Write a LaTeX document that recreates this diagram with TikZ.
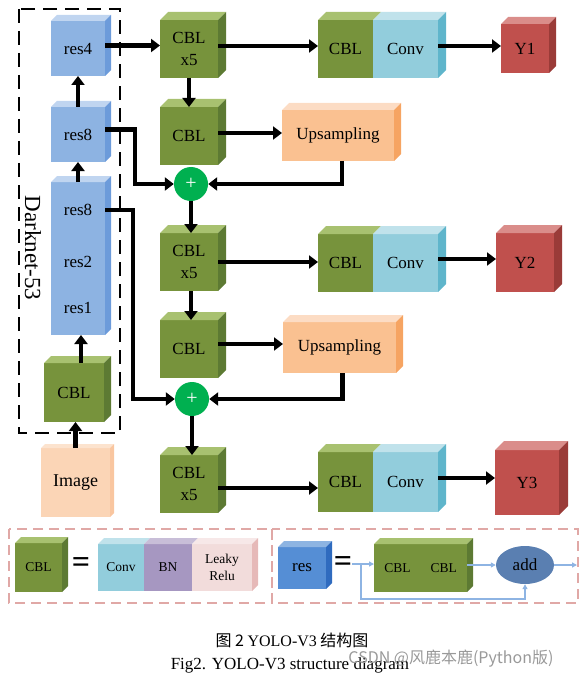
\documentclass[tikz,border=0pt]{standalone}
\usepackage{fontspec}
\setmainfont{Liberation Serif}
\newfontfamily\cjk{Noto Sans CJK SC}
\usetikzlibrary{calc,arrows.meta,shapes.geometric}
\definecolor{cblF}{HTML}{77933C}\definecolor{cblT}{HTML}{A8C170}\definecolor{cblS}{HTML}{5D7A33}
\definecolor{resF}{HTML}{8DB3E2}\definecolor{resT}{HTML}{C0D5F0}\definecolor{resS}{HTML}{6C9BDA}
\definecolor{upF}{HTML}{FAC191}\definecolor{upT}{HTML}{FCDCC4}\definecolor{upS}{HTML}{F6A462}
\definecolor{imgF}{HTML}{FBD5B6}\definecolor{imgT}{HTML}{FCE3CE}\definecolor{imgS}{HTML}{F9C6A0}
\definecolor{convF}{HTML}{92CDDC}\definecolor{convT}{HTML}{C0E2EB}\definecolor{convS}{HTML}{5FB5CB}
\definecolor{yF}{HTML}{C0504D}\definecolor{yT}{HTML}{DA8D8A}\definecolor{yS}{HTML}{9A3B38}
\definecolor{bnF}{HTML}{A697C1}\definecolor{bnT}{HTML}{C8BED8}
\definecolor{reluF}{HTML}{F2DCDB}\definecolor{reluT}{HTML}{F7E8E8}\definecolor{reluS}{HTML}{E6B9B8}
\definecolor{lresF}{HTML}{558ED5}\definecolor{lresT}{HTML}{8DB4E2}\definecolor{lresS}{HTML}{2F6BBF}
\definecolor{addF}{HTML}{5A7FB1}\definecolor{plusG}{HTML}{00B050}
\definecolor{thinB}{HTML}{8EB4E3}\definecolor{legBorder}{HTML}{E0A8A6}
\newcommand\faces[4]{%
  \fill[#3] (#1.north west) -- ++(#2,-#2) -- ($(#1.north east)+(#2,-#2)$) -- (#1.north east) -- cycle;
  \fill[#4] (#1.north east) -- ++(#2,-#2) -- ($(#1.south east)+(#2,-#2)$) -- (#1.south east) -- cycle;}
\newcommand\topface[3]{%
  \fill[#3] (#1.north west) -- ++(#2,-#2) -- ($(#1.north east)+(#2,-#2)$) -- (#1.north east) -- cycle;}
\tikzset{
  box/.style={inner sep=0pt, outer sep=0pt, fill=#1, font=\fontsize{17}{22}\selectfont, align=center},
  lbl/.style={inner sep=0pt, font=\fontsize{17}{22}\selectfont},
  sbox/.style={inner sep=0pt, outer sep=0pt, fill=#1, font=\fontsize{13.5}{17}\selectfont, align=center},
  arr/.style={line width=4.6pt, line join=miter, -{Triangle[length=9pt,width=13pt]}},
  thin/.style={line width=1.6pt, thinB, -{Triangle[length=5pt,width=5pt]}},
  plus/.style={circle, fill=plusG, minimum size=34pt, inner sep=0pt, text=white, font=\fontsize{20}{20}\selectfont},
}
\begin{document}
\begin{tikzpicture}[x=1pt,y=-1pt]
\useasboundingbox (0,0) rectangle (585,679);
% Darknet frame
\draw[line width=1.3pt, dash pattern=on 14pt off 8pt] (19,9) rectangle (120,433);
\node[lbl, rotate=-90, font=\fontsize{23}{23}\selectfont] (dk) at (33,248) {Darknet-53};
% Darknet boxes
\node[box=resF, minimum width=54pt, minimum height=55pt] (res4) at (78,48.5) {res4};
\faces{res4}{6}{resT}{resS}
\node[box=resF, minimum width=54pt, minimum height=55pt] (res8a) at (78,134.5) {res8};
\faces{res8a}{6}{resT}{resS}
\node[box=resF, minimum width=54pt, minimum height=153pt] (col) at (78,258.5) {};
\faces{col}{6}{resT}{resS}
\node[lbl] (res8b) at (78,210) {res8};
\node[lbl] (res2) at (78,262) {res2};
\node[lbl] (res1) at (78,308) {res1};
\node[box=cblF, minimum width=60pt, minimum height=59pt] (cbl0) at (74,392.5) {CBL};
\faces{cbl0}{7}{cblT}{cblS}
\node[box=imgF, minimum width=69pt, minimum height=69pt, font=\fontsize{18}{22}\selectfont] (img) at (75.5,482.5) {Image};
\faces{img}{4}{imgT}{imgS}
% Middle column
\node[box=cblF, minimum width=58pt, minimum height=58pt] (c5a) at (189,49) {CBL\\x5};
\faces{c5a}{8}{cblT}{cblS}
\node[box=cblF, minimum width=58pt, minimum height=58pt] (cbla) at (189,136) {CBL};
\faces{cbla}{8}{cblT}{cblS}
\node[plus] (plus1) at (191,184) {+};
\node[box=cblF, minimum width=58pt, minimum height=58pt] (c5b) at (189,262) {CBL\\x5};
\faces{c5b}{8}{cblT}{cblS}
\node[box=cblF, minimum width=58pt, minimum height=58pt] (cblb) at (189,349) {CBL};
\faces{cblb}{8}{cblT}{cblS}
\node[plus] (plus2) at (192,399) {+};
\node[box=cblF, minimum width=58pt, minimum height=58pt] (c5c) at (189,484) {CBL\\x5};
\faces{c5c}{8}{cblT}{cblS}
% Upsampling
\node[box=upF, minimum width=112pt, minimum height=51pt] (up1) at (338,135.5) {Upsampling};
\faces{up1}{7}{upT}{upS}
\node[box=upF, minimum width=113pt, minimum height=51pt] (up2) at (339.5,347.5) {Upsampling};
\faces{up2}{7}{upT}{upS}
% CBL|Conv rows
\node[box=cblF, minimum width=55pt, minimum height=58pt] (cr1) at (345.5,49) {CBL};
\topface{cr1}{8}{cblT}
\node[box=convF, minimum width=65pt, minimum height=58pt] (cv1) at (405.5,49) {Conv};
\faces{cv1}{8}{convT}{convS}
\node[box=cblF, minimum width=55pt, minimum height=58pt] (cr2) at (345.5,263) {CBL};
\topface{cr2}{8}{cblT}
\node[box=convF, minimum width=65pt, minimum height=58pt] (cv2) at (405.5,263) {Conv};
\faces{cv2}{8}{convT}{convS}
\node[box=cblF, minimum width=55pt, minimum height=60pt] (cr3) at (345.5,482) {CBL};
\topface{cr3}{8}{cblT}
\node[box=convF, minimum width=65pt, minimum height=60pt] (cv3) at (405.5,482) {Conv};
\faces{cv3}{8}{convT}{convS}
% Outputs
\node[box=yF, minimum width=48pt, minimum height=49pt] (y1) at (525,48.5) {Y1};
\faces{y1}{7}{yT}{yS}
\node[box=yF, minimum width=58pt, minimum height=59pt] (y2) at (525,262.5) {Y2};
\faces{y2}{8}{yT}{yS}
\node[box=yF, minimum width=64pt, minimum height=65pt] (y3) at (527,482.5) {Y3};
\faces{y3}{9}{yT}{yS}
% Arrows
\draw[arr] (img.north) -- (img.north |- cbl0.south);
\draw[arr] ([xshift=7pt]cbl0.north) -- ([xshift=7pt]cbl0.north |- col.south);
\draw[arr] (col.north) -- (res8a.south);
\draw[arr] (res8a.north) -- (res4.south);
\draw[arr] ([yshift=3pt]res4.east) -- ([yshift=3pt]res4.east -| c5a.west);
\draw[arr] ([yshift=3pt]c5a.east) -- ([yshift=3pt]c5a.east -| cr1.west);
\draw[arr] ([yshift=3pt]cv1.east) -- ([yshift=3pt]cv1.east -| y1.west);
\draw[arr] (c5a.south) -- (cbla.north);
\draw[arr] ([yshift=3pt]cbla.east) -- ([yshift=3pt]cbla.east -| up1.west);
\draw[arr] ([xshift=4pt]up1.south) |- (plus1.east);
\draw[arr] ([yshift=5pt]res8a.east) -- ++(30,0) |- (plus1.west);
\draw[arr] (plus1.south) -- (plus1.south |- c5b.north);
\draw[arr] (c5b.east) -- (c5b.east -| cr2.west);
\draw[arr] ([yshift=4pt]cv2.east) -- ([yshift=4pt]cv2.east -| y2.west);
\draw[arr] ([xshift=2pt]c5b.south) -- ([xshift=2pt]c5b.south |- cblb.north);
\draw[arr] ([yshift=5pt]cblb.east) -- ([yshift=5pt]cblb.east -| up2.west);
\draw[arr] ([xshift=3pt]up2.south) |- (plus2.east);
\draw[arr] (col.east |- res8b) -- ++(28,0) |- (plus2.west);
\draw[arr] (plus2.south) -- (plus2.south |- c5c.north);
\draw[arr] ([yshift=-4pt]c5c.east) -- ([yshift=-4pt]c5c.east -| cr3.west);
\draw[arr] ([yshift=4pt]cv3.east) -- ([yshift=4pt]cv3.east -| y3.west);
% Legend
\draw[legBorder, line width=1.2pt, dash pattern=on 10pt off 6pt] (9,529) rectangle (272,603);
\draw[legBorder, line width=1.2pt, dash pattern=on 10pt off 6pt] (272,529) rectangle (578,603);
\node[sbox=cblF, minimum width=47pt, minimum height=49pt] (lcbl) at (38.5,567.5) {CBL};
\faces{lcbl}{6}{cblT}{cblS}
\node[inner sep=0pt, font=\fontsize{32}{32}\bfseries] (eq1) at (81,565) {=};
\node[sbox=convF, minimum width=46pt, minimum height=47pt] (lconv) at (121,567.5) {Conv};
\topface{lconv}{6}{convT}
\node[sbox=bnF, minimum width=48pt, minimum height=47pt] (lbn) at (168,567.5) {BN};
\topface{lbn}{6}{bnT}
\node[sbox=reluF, minimum width=60pt, minimum height=47pt] (lrelu) at (222,567.5) {Leaky\\Relu};
\faces{lrelu}{6}{reluT}{reluS}
\node[box=lresF, minimum width=48pt, minimum height=42pt] (lres) at (302,568) {res};
\faces{lres}{6}{lresT}{lresS}
\node[inner sep=0pt, font=\fontsize{32}{32}\bfseries] (eq2) at (343,564) {=};
\node[sbox=cblF, minimum width=93pt, minimum height=48pt] (lcc) at (420.5,568) {CBL\hspace{20pt}CBL};
\faces{lcc}{6}{cblT}{cblS}
\node[ellipse, fill=addF, minimum width=58pt, minimum height=38pt, inner sep=0pt, font=\fontsize{17}{17}\selectfont] (add) at (525,565) {add};
\coordinate (lin) at (352,564);
\coordinate (lsplit) at (361,564);
\coordinate (lout) at (577,565);
\draw[thin] (lin) -- (lin -| lcc.west);
\draw[thin] (lsplit) -- (361,599) -| (add.south);
\draw[thin] (lcc.east |- add.west) -- (add.west);
\draw[thin] (add.east) -- (lout);
% Captions
\node[inner sep=0pt, font=\cjk\fontsize{16}{16}\selectfont] (cap1) at (292,640) {图 2 {\rmfamily YOLO-V3} 结构图};
\node[inner sep=0pt, font=\fontsize{17}{17}\selectfont] (cap2) at (290,665) {Fig2. YOLO-V3 structure diagram};
\node[inner sep=0pt, text=black!40, font=\cjk\fontsize{16}{16}\selectfont] (wm) at (451,659) {CSDN @风鹿本鹿(Python版)};
\end{tikzpicture}
\end{document}
